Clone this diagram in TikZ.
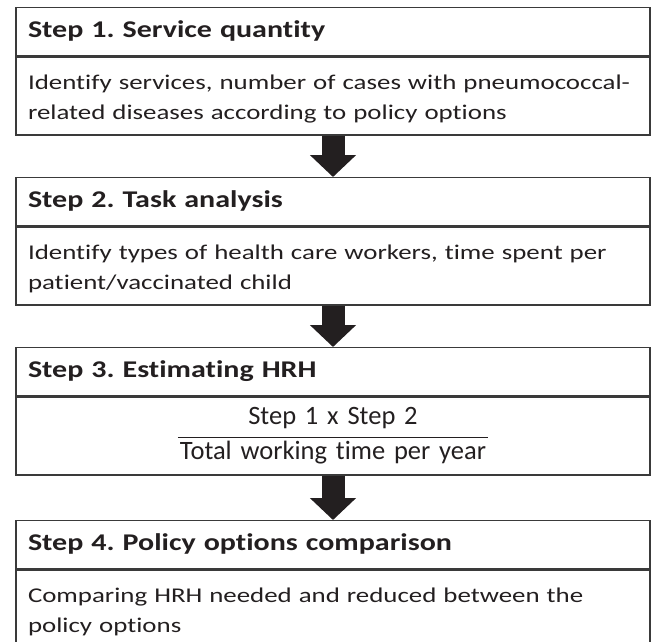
\documentclass[tikz,border=0pt]{standalone}
\usepackage{fontspec}
\setmainfont{Carlito}[Ligatures=NoCommon]
\newfontfamily\widefont{Carlito}[Ligatures=NoCommon, FakeStretch=1.25]
\newfontfamily\widerfont{Carlito}[Ligatures=NoCommon, FakeStretch=1.28]
\frenchspacing
\usetikzlibrary{arrows.meta}

\definecolor{framegray}{HTML}{3A3A3A}
\definecolor{inkblack}{HTML}{231F20}

\tikzset{
  stephead/.style={draw=framegray, line width=1.4pt, anchor=north, text=inkblack,
    text width=610pt, inner xsep=12pt, inner ysep=0pt, minimum height=48pt,
    text height=18pt, text depth=6pt,
    align=left, font=\widefont\bfseries\fontsize{24}{30}\selectfont},
  stepbody/.style={stephead, minimum height=78pt, text height=21pt, text depth=35pt,
    font=\widerfont\fontsize{21}{30}\selectfont},
  fracbody/.style={stephead, minimum height=78pt, text height=, text depth=,
    align=center, font=\fontsize{26.5}{30}\selectfont},
  flowarrow/.style={draw=inkblack, line width=23pt,
    -{Triangle[width=45pt,length=22pt]}}
}

\begin{document}
\begin{tikzpicture}[x=1pt,y=-1pt]
  \useasboundingbox (0,0) rectangle (654,642);

  % steps
  \node[stephead] (h1) at (333,7) {Step 1. Service quantity};
  \node[stepbody] (b1) at (h1.south) {Identify services, number of cases with pneumococcal-\\related diseases according to policy options};

  \node[stephead] (h2) at (333,177) {Step 2. Task analysis};
  \node[stepbody] (b2) at (h2.south) {Identify types of health care workers, time spent per\\patient/vaccinated child};

  \node[stephead] (h3) at (333,347) {Step 3. Estimating HRH};
  \node[fracbody] (b3) at (h3.south) {\setlength{\arrayrulewidth}{1.6pt}%
    \begin{tabular}{@{\hspace{2pt}}c@{\hspace{2pt}}}
      Step 1 x Step 2\\[3.2pt]
      \hline
      \rule{0pt}{21.2pt}Total working time per year
    \end{tabular}};

  \node[stephead] (h4) at (333,520) {Step 4. Policy options comparison};
  \node[stepbody] (b4) at (h4.south) {Comparing HRH needed and reduced between the\\policy options};

  % block arrows
  \draw[flowarrow] (b1) -- (h2);
  \draw[flowarrow] (b2) -- (h3);
  \draw[flowarrow] (b3) -- (h4);
\end{tikzpicture}
\end{document}
